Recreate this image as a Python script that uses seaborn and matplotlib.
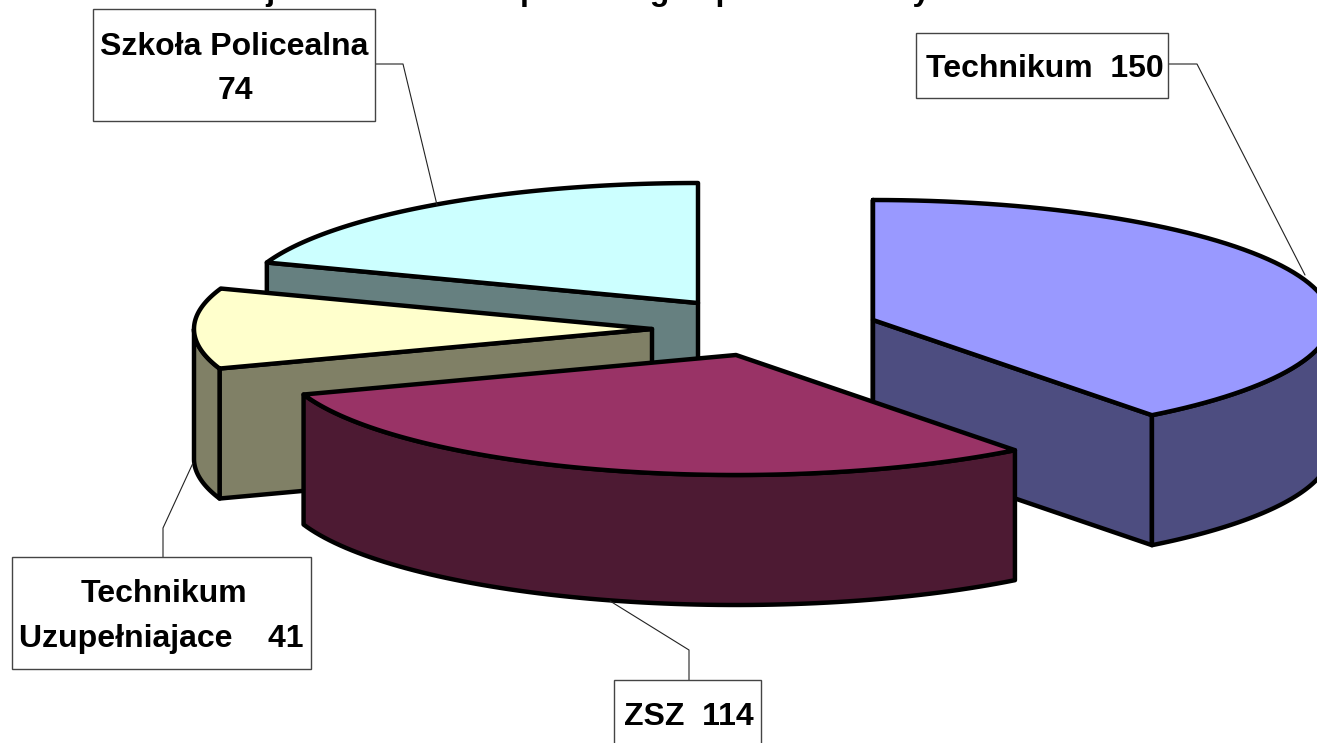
import numpy as np
import matplotlib
matplotlib.use('Agg')
import matplotlib.pyplot as plt
import seaborn as sns

# values shown on the chart, clockwise from 12 o'clock
schools = ['Technikum', 'ZSZ', 'Technikum Uzupełniajace', 'Szkoła Policealna']
students = [150, 114, 41, 74]
top_colors = ['#9999FF', '#993366', '#FFFFCC', '#CCFFFF']

# only the bottom edge of the title is in the picture, so the wording is a guess
title = 'Projekt naborów do pisemnego i przedmiotowy kierunek w tabeli nauka obecnie'

# layout, in pixels of the 1317x743 picture
RX, RY, DEPTH = 458, 120, 130
LW = 3.2
apex = {'Technikum': (873, 320), 'ZSZ': (736, 355),
        'Technikum Uzupełniajace': (652, 329), 'Szkoła Policealna': (698, 303)}
# drawn back to front
order = ['Szkoła Policealna', 'Technikum', 'Technikum Uzupełniajace', 'ZSZ']

sns.set_theme(style='white')
plt.rcParams['font.family'] = ['Liberation Sans', 'DejaVu Sans']
fig = plt.figure(figsize=(13.17, 7.43), dpi=100)
ax = fig.add_axes([0, 0, 1, 1])
ax.set_xlim(0, 1317)
ax.set_ylim(743, 0)
ax.axis('off')

palette = sns.color_palette(top_colors)
ends = np.cumsum(students) / sum(students) * 360
starts = ends - np.array(students) / sum(students) * 360


def rim_pts(cx, cy, a0, a1):
    a = np.radians(np.linspace(a0, a1, 80))
    return cx + RX * np.sin(a), cy - RY * np.cos(a)


def face(xs, ys, color, z):
    ax.fill(xs, ys, facecolor=color, edgecolor='black', lw=LW, joinstyle='round', zorder=z)


def draw_wedge(name, z):
    i = schools.index(name)
    cx, cy = apex[name]
    a0, a1 = starts[i], ends[i]
    top = palette[i]
    side = tuple(c * 0.5 for c in top)
    mx, my = rim_pts(cx, cy, (a0 + a1) / 2, (a0 + a1) / 2)
    for a in (a0, a1):
        rx, ry = rim_pts(cx, cy, a, a)
        # a cut face shows only if the top of the wedge lies above its edge
        cross = (rx[0] - cx) * (my[0] - cy) - (ry[0] - cy) * (mx[0] - cx)
        visible = (cross < 0) if rx[0] > cx else (cross > 0)
        if visible:
            face([cx, rx[0], rx[0], cx], [cy, ry[0], ry[0] + DEPTH, cy + DEPTH], side, z)
    lo, hi = max(a0, 90), min(a1, 270)
    if lo < hi:
        xs, ys = rim_pts(cx, cy, lo, hi)
        face(np.r_[xs, xs[::-1]], np.r_[ys, ys[::-1] + DEPTH], side, z)
    xs, ys = rim_pts(cx, cy, a0, a1)
    face(np.r_[cx, xs], np.r_[cy, ys], top, z)


for z, name in enumerate(order, start=2):
    draw_wedge(name, z)

# label boxes: left, top, right, bottom, then leader line
boxes = [
    ((93, 9, 375, 121), [375, 403, 437], [64, 64, 205]),
    ((916, 33, 1168, 98), [1168, 1197, 1305], [64, 64, 275]),
    ((12, 557, 311, 669), [163, 163, 193], [557, 528, 463]),
    ((614, 680, 761, 760), [689, 689, 610], [680, 650, 601]),
]
for (l, t, r, b), lx, ly in boxes:
    sns.lineplot(x=lx, y=ly, sort=False, estimator=None, color='#222222', lw=0.8, ax=ax, zorder=8)
    ax.fill([l, r, r, l], [t, t, b, b], facecolor='white', edgecolor='#444444', lw=1.0, zorder=9)

labels = [
    (234.5, 55, 'Szkoła Policealna'),
    (235, 99, '74'),
    (1044.5, 77, 'Technikum  150'),
    (164, 602, 'Technikum'),
    (161.5, 647, 'Uzupełniajace    41'),
    (688.5, 725, 'ZSZ  114'),
]
for x, y, text in labels:
    ax.text(x, y, text, ha='center', va='baseline', fontsize=23, fontweight='bold', color='black', zorder=10)

ax.text(213, 0.4, title, ha='left', va='baseline', fontsize=23, fontweight='bold', color='black', zorder=10)

fig.savefig('out.png', dpi=100)
